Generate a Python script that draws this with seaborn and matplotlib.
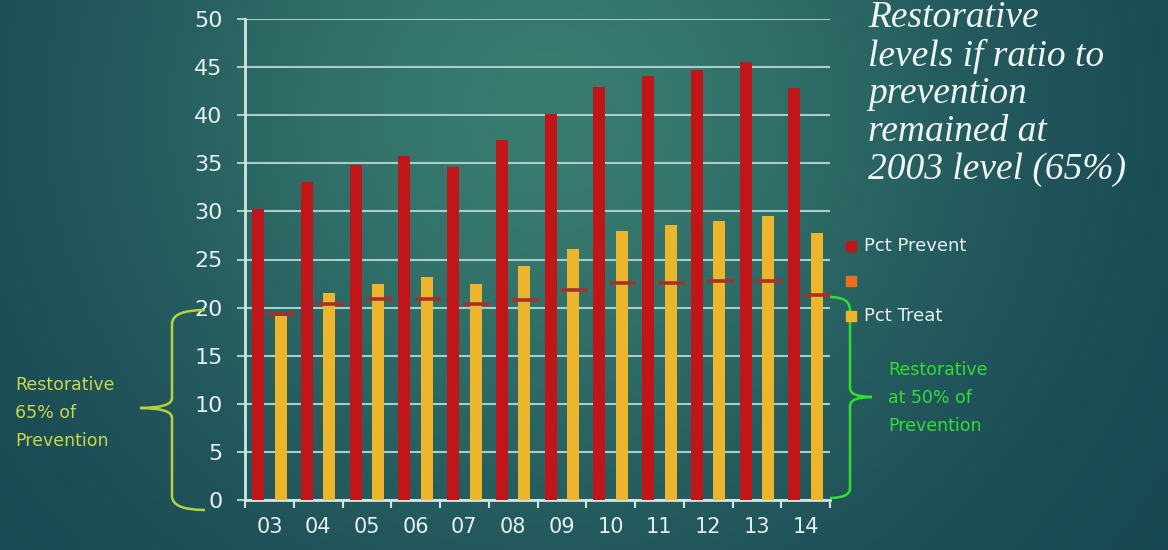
import numpy as np
import pandas as pd
import matplotlib
matplotlib.use("Agg")
import matplotlib.pyplot as plt
import seaborn as sns
from matplotlib.path import Path
from matplotlib.patches import PathPatch, Rectangle

years = ['03', '04', '05', '06', '07', '08', '09', '10', '11', '12', '13', '14']
pct_prevent = [30.2, 33.1, 34.8, 35.8, 34.6, 37.4, 40.1, 42.9, 44.1, 44.7, 45.5, 42.8]
pct_treat = [19.1, 21.5, 22.5, 23.2, 22.5, 24.3, 26.1, 28.0, 28.6, 29.0, 29.5, 27.8]
restor_65 = [19.3, 20.4, 20.9, 20.9, 20.4, 20.8, 21.8, 22.6, 22.6, 22.8, 22.8, 21.3]
y_ticks = [0, 5, 10, 15, 20, 25, 30, 35, 40, 45, 50]

RED = '#c0161a'
YEL = '#ecb52c'
ORG = '#e8701f'
DASH = '#a8302a'
GRID = '#a6cfcb'
TXT = '#e6f0f0'

sns.set_theme(style='white')
plt.rcParams['font.family'] = ['DejaVu Sans']

W, H = 1168, 550
fig = plt.figure(figsize=(W / 100, H / 100), dpi=100)

# background gradient
bg = fig.add_axes([0, 0, 1, 1], zorder=-10)
xx, yy = np.meshgrid(np.linspace(0, 1, 300), np.linspace(0, 1, 150))
w = np.exp(-((xx - 0.47) / 0.38) ** 2 - ((yy - 0.2) / 0.8) ** 2)
dark = np.array([0x17, 0x45, 0x52]) / 255
light = np.array([0x38, 0x7b, 0x6f]) / 255
img = dark[None, None, :] * (1 - w[..., None]) + light[None, None, :] * w[..., None]
bg.imshow(img, aspect='auto', extent=[0, 1, 0, 1], origin='upper')
bg.axis('off')

ax = fig.add_axes([245 / W, 1 - 500 / H, (830 - 245) / W, (500 - 19) / H])
ax.patch.set_alpha(0)

df = pd.DataFrame({
    'year': years * 2,
    'value': pct_prevent + pct_treat,
    'series': ['Pct Prevent'] * len(years) + ['Pct Treat'] * len(years),
})
sns.barplot(data=df, x='year', y='value', hue='series', palette=[RED, YEL],
            width=0.92, gap=0.47, dodge=True, ax=ax, legend=False,
            saturation=1, linewidth=0, edgecolor='none', zorder=3)

# restorative 65% dashes, centred on the treat bars
for i, v in enumerate(restor_65):
    ax.hlines(v, i + 0.23 - 0.25, i + 0.23 + 0.3, color=DASH, lw=2.6, zorder=4)

ax.set_ylim(0, 50)
ax.set_xlim(-0.5, len(years) - 0.5)
ax.set_yticks(y_ticks)
ax.yaxis.grid(True, color=GRID, lw=1.5, zorder=0)
ax.set_axisbelow(True)
ax.set_xlabel('')
ax.set_ylabel('')
for s in ['top', 'right']:
    ax.spines[s].set_visible(False)
for s in ['left', 'bottom']:
    ax.spines[s].set_color('#cfe6e4')
    ax.spines[s].set_linewidth(2)
ax.tick_params(axis='y', length=6, width=1.5, color=GRID, labelsize=16,
               labelcolor=TXT, pad=10, left=True)
ax.tick_params(axis='x', length=0, labelsize=15, labelcolor=TXT, pad=12)
ax.set_xticks(np.arange(len(years) + 1) - 0.5, minor=True)
ax.tick_params(axis='x', which='minor', length=6, width=1.5, color='#cfe6e4', bottom=True)

# legend
for k, (lab, col) in enumerate([('Pct Prevent', RED), ('', ORG), ('Pct Treat', YEL)]):
    yc = [246, 281, 316][k]
    fig.patches.append(Rectangle(((846) / W, 1 - (yc + 5) / H), 10 / W, 10 / H,
                                 transform=fig.transFigure, color=col, zorder=5))
    if lab:
        fig.text(864 / W, 1 - yc / H, lab, color=TXT, fontsize=13, va='center', ha='left')

# title text
title_lines = ['Restorative', 'levels if ratio to', 'prevention', 'remained at', '2003 level (65%)']
for k, line in enumerate(title_lines):
    fig.text(868 / W, 1 - (18 + 38 * k) / H, line, color='#eef4f2', fontsize=27,
             family='Liberation Serif', style='italic', va='center', ha='left')

# braces
def brace(pts, codes, color):
    p = Path([(x / W, 1 - y / H) for x, y in pts], codes)
    fig.patches.append(PathPatch(p, transform=fig.transFigure, fc='none', ec=color, lw=1.8))

M, L, C = Path.MOVETO, Path.LINETO, Path.CURVE3
LEFTC = '#b9d23c'
brace([(205, 310), (172, 310), (172, 324), (172, 398), (172, 408), (140, 408),
       (172, 408), (172, 418), (172, 496), (172, 510), (205, 510)],
      [M, C, C, L, C, C, C, C, L, C, C], LEFTC)
GREENC = '#2fe02f'
brace([(830, 297), (850, 297), (850, 310), (850, 388), (850, 397), (872, 397),
       (850, 397), (850, 406), (850, 488), (850, 498), (830, 498)],
      [M, C, C, L, C, C, C, C, L, C, C], GREENC)

for k, line in enumerate(['Restorative', '65% of', 'Prevention']):
    fig.text(15 / W, 1 - (385 + 28 * k) / H, line, color='#c8d84a', fontsize=12.5,
             va='center', ha='left')
for k, line in enumerate(['Restorative', 'at 50% of', 'Prevention']):
    fig.text(888 / W, 1 - (370 + 28 * k) / H, line, color='#33dd33', fontsize=12.5,
             va='center', ha='left')

fig.savefig('out.png', dpi=100)
